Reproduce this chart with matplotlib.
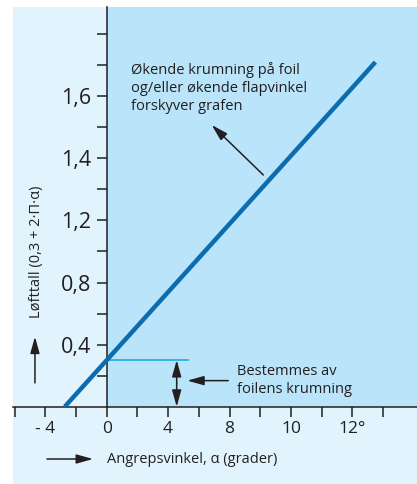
import matplotlib
matplotlib.use('Agg')
import matplotlib.pyplot as plt
from matplotlib.patches import Rectangle

# lift line (angle in degrees, lift coefficient)
alpha_deg = [-2.73, 17.5]
lift = [0.0, 2.22]
intercept = 0.3

# tick positions and the labels printed on them
x_ticks = [-6, -4, -2, 0, 2, 4, 6, 8, 10, 12, 14, 16, 18]
x_labels = ['', '- 4', '', '0', '', '4', '', '8', '', '10', '', '12°', '']
y_ticks = [0.2, 0.4, 0.6, 0.8, 1.0, 1.2, 1.4, 1.6, 1.8, 2.0, 2.2, 2.4]
y_labels = ['', '0,4', '', '0,8', '', '1,2', '', '1,4', '', '1,6', '', '']

light_bg = '#e1f3fc'
dark_bg = '#b9e4f9'
ink = '#231f20'

plt.rcParams['font.family'] = ['Open Sans', 'DejaVu Sans']

fig = plt.figure(figsize=(4.17, 4.84), dpi=100)
ax = fig.add_axes([13 / 417, 0, 404 / 417, 477 / 484])
ax.set_facecolor(light_bg)
ax.set_xlim(-6.10, 20.21)
ax.set_ylim(-0.498, 2.575)

# darker quadrant
ax.add_patch(Rectangle((0, 0), 20.21, 2.575, color=dark_bg, zorder=0, lw=0))

# axes through origin
for side in ['top', 'right']:
    ax.spines[side].set_visible(False)
ax.spines['left'].set_position(('data', 0))
ax.spines['bottom'].set_position(('data', 0))
ax.spines['left'].set_bounds(0, 2.575)
for side in ['left', 'bottom']:
    ax.spines[side].set_color(ink)
    ax.spines[side].set_linewidth(1.1)

ax.set_xticks(x_ticks)
ax.set_xticklabels(x_labels)
ax.set_yticks(y_ticks)
ax.set_yticklabels(y_labels)
ax.tick_params(axis='x', direction='out', length=7, width=1.1, color=ink,
               labelcolor=ink, labelsize=12.5, pad=3)
ax.tick_params(axis='y', direction='out', length=7, width=1.1, color=ink,
               labelcolor=ink, labelsize=15.5, pad=4)

# lift line
ax.plot(alpha_deg, lift, color='#0b6cb0', lw=3.2, solid_capstyle='butt', zorder=5)

arrow = dict(arrowstyle='-|>,head_length=1.0,head_width=0.28', color=ink, lw=1.1,
             mutation_scale=10, shrinkA=0, shrinkB=0)

# intercept marker
ax.plot([0, 5.3], [intercept, intercept], color='#22a9e1', lw=1.2, zorder=4)
ax.annotate('', xy=(4.56, 0.0), xytext=(4.56, intercept / 2), arrowprops=arrow)
ax.annotate('', xy=(4.56, intercept), xytext=(4.56, intercept / 2), arrowprops=arrow)
ax.annotate('', xy=(5.25, 0.168), xytext=(7.92, 0.168), arrowprops=arrow)
ax.text(8.47, 0.167, 'Bestemmes av\nfoilens krumning', fontsize=10.5, color=ink,
        va='center', ha='left', linespacing=1.25)

# shift note
ax.annotate('', xy=(6.84, 1.815), xytext=(10.2, 1.493), arrowprops=arrow)
ax.text(1.58, 2.052, 'Økende krumning på foil\nog/eller økende flapvinkel\nforskyver grafen',
        fontsize=10.5, color=ink, va='center', ha='left', linespacing=1.25)

# axis labels with arrows
ax.text(0.0, -0.337, 'Angrepsvinkel, α (grader)', fontsize=10.5, color=ink,
        va='center', ha='left')
ax.annotate('', xy=(-0.89, -0.337), xytext=(-3.89, -0.337), arrowprops=arrow)
ax.text(-4.56, 1.0, 'Løfttall (0,3 + 2·Π·α)', fontsize=10.5, color=ink,
        va='center', ha='center', rotation=90)
ax.annotate('', xy=(-4.67, 0.451), xytext=(-4.67, 0.153), arrowprops=arrow)

plt.savefig('out.png', dpi=100, facecolor='white')
